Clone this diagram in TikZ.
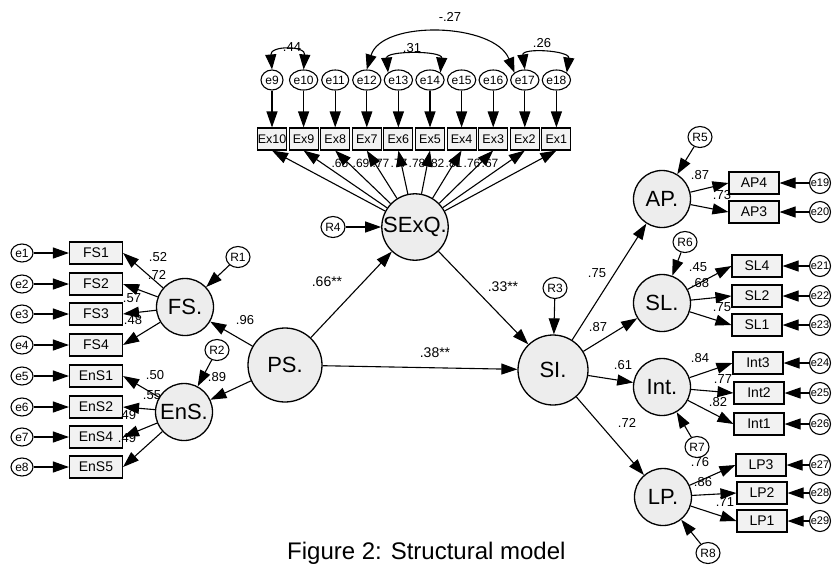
\documentclass[tikz,border=0pt]{standalone}
\usepackage{fontspec}
\setmainfont{Liberation Sans}
\usetikzlibrary{arrows.meta,shapes.geometric}
\newcommand{\pxfont}[1]{\fontsize{#1}{#1}\selectfont}
\tikzset{
  latent/.style={draw,circle,line width=1.3pt,fill=black!7,minimum size=57pt,
                 inner sep=0pt,font=\pxfont{22}},
  obs/.style={draw,line width=1.1pt,fill=black!5,minimum width=50pt,
              minimum height=22pt,inner sep=0pt,font=\pxfont{14}},
  exbox/.style={obs,minimum width=29pt,font=\pxfont{12.5}},
  err/.style={draw,ellipse,line width=1.1pt,fill=white,minimum width=22pt,
              minimum height=18pt,inner sep=0pt,font=\pxfont{12}},
  errc/.style={err,circle,minimum size=21pt,font=\pxfont{11}},
  res/.style={err,minimum width=24pt,minimum height=21pt},
  ar/.style={-{Triangle[length=16pt,width=11pt]},line width=1.1pt},
  cov/.style={{Triangle[length=15pt,width=11pt]}-{Triangle[length=15pt,width=11pt]},
              line width=1.1pt},
  lab/.style={font=\pxfont{13},inner sep=0pt},
}
\begin{document}
\begin{tikzpicture}[x=1pt,y=-1pt]
  \path[use as bounding box,fill=white] (0,0) rectangle (832,566);
  % latent variables
  \node[latent,minimum size=74pt] (ps) at (285,365) {PS.};
  \node[latent] (fs) at (185,307) {FS.};
  \node[latent] (ens) at (184,412) {EnS.};
  \node[latent,minimum size=66pt] (sexq) at (415,227) {SExQ.};
  \node[latent,minimum size=70pt] (si) at (553,370) {SI.};
  \node[latent] (ap) at (662,199) {AP.};
  \node[latent] (sl) at (662,303) {SL.};
  \node[latent] (int) at (662,387) {Int.};
  \node[latent] (lp) at (663,497) {LP.};
  % residuals
  \node[res] (r1) at (238,257) {R1};
  \node[res] (r2) at (217,350) {R2};
  \node[res] (r3) at (555,288) {R3};
  \node[res] (r4) at (333,227) {R4};
  \node[res] (r5) at (700,137) {R5};
  \node[res] (r6) at (685,242) {R6};
  \node[res] (r7) at (697,447) {R7};
  \node[res] (r8) at (708,553) {R8};
  \draw[ar] (r1) -- (fs);
  \draw[ar] (r2) -- (ens);
  \draw[ar] (r3) -- (si);
  \draw[ar] (r4) -- (sexq);
  \draw[ar] (r5) -- (ap);
  \draw[ar] (r6) -- (sl);
  \draw[ar] (r7) -- (int);
  \draw[ar] (r8) -- (lp);
  % structural paths
  \draw[ar] (ps) -- (fs);
  \draw[ar] (ps) -- (ens);
  \draw[ar] (ps) -- (sexq);
  \draw[ar] (ps) -- (si);
  \draw[ar] (sexq) -- (si);
  \draw[ar] (si) -- (ap);
  \draw[ar] (si) -- (sl);
  \draw[ar] (si) -- (int);
  \draw[ar] (si) -- (lp);
  % indicators
  \foreach \i/\e/\x in {10/9/272,9/10/303.6,8/11/335.2,7/12/366.8,6/13/398.4,
                        5/14/430,4/15/461.6,3/16/493.2,2/17/524.8,1/18/556.4}{
    \node[exbox] (Ex\i) at (\x,139) {Ex\i};
    \node[err,minimum height=20pt] (e\e) at (\x,80) {e\e};
    \draw[ar] (e\e) -- (Ex\i);
    \draw[ar] (sexq) -- (Ex\i.south);
  }
  \foreach \e/\b/\y/\src in {1/FS1/253/fs,2/FS2/284/fs,3/FS3/314/fs,4/FS4/345/fs,
                             5/EnS1/376/ens,6/EnS2/407/ens,7/EnS4/437/ens,8/EnS5/467/ens}{
    \node[obs,minimum width=53pt] (\b) at (96,\y) {\b};
    \node[err] (e\e) at (22,\y) {e\e};
    \draw[ar] (e\e) -- (\b.west);
    \draw[ar] (\src) -- (\b.east);
  }
  \foreach \e/\b/\x/\y/\src in {19/AP4/754/183/ap,20/AP3/754/212/ap,21/SL4/757/266/sl,
                                22/SL2/757/296/sl,23/SL1/757/325/sl,24/Int3/758/363/int,
                                25/Int2/759/393/int,26/Int1/759/424/int,27/LP3/761/465/lp,
                                28/LP2/762/493/lp,29/LP1/762/521/lp}{
    \node[obs] (\b) at (\x,\y) {\b};
    \node[errc] (e\e) at (820,\y) {e\e};
    \draw[ar] (e\e) -- (\b.east);
    \draw[ar] (\src) -- (\b.west);
  }
  % correlated errors
  \draw[cov] (e9.north) .. controls +(-2,-24) and +(2,-24) .. (e10.north);
  \draw[cov] (e13.north west) .. controls +(-2,-22) and +(2,-22) .. (e14.north east);
  \draw[cov] (e17.north) .. controls +(-3,-22) and +(3,-22) .. (e18.north east);
  \draw[cov] (e12.north) .. controls +(15,-50) and +(-20,-50) .. (e17.north west);
  % estimates
  \node[lab] (c1) at (450,17) {-.27};
  \node[lab] (c2) at (292,47) {.44};
  \node[lab] (c3) at (412,48) {.31};
  \node[lab] (c4) at (542,43) {.26};
  \foreach \v/\x in {.65/340,.69/361,.77/381,.77/399,.78/417,.82/436,.81/454,.76/472,.67/490}{
    \node[lab,font=\pxfont{12}] at (\x,163) {\v};
  }
  \node[lab,font=\pxfont{14}] (p1) at (327,282) {.66**};
  \node[lab,font=\pxfont{14}] (p2) at (503,287) {.33**};
  \node[lab,font=\pxfont{14}] (p3) at (435,353) {.38**};
  \node[lab] (p4) at (245,320) {.96};
  \node[lab] (p5) at (217,377) {.89};
  \node[lab] (p6) at (597,273) {.75};
  \node[lab] (p7) at (598,327) {.87};
  \node[lab] (p8) at (623,365) {.61};
  \node[lab] (p9) at (627,423) {.72};
  \node[lab] (l1) at (158,257) {.52};
  \node[lab] (l2) at (157,275) {.72};
  \node[lab] (l3) at (132,298) {.57};
  \node[lab] (l4) at (133,320) {.48};
  \node[lab] (l5) at (155,375) {.50};
  \node[lab] (l6) at (152,395) {.55};
  \node[lab] (l7) at (127,415) {.49};
  \node[lab] (l8) at (127,438) {.49};
  \node[lab] (l9) at (700,175) {.87};
  \node[lab] (l10) at (722,195) {.73};
  \node[lab] (l11) at (698,267) {.45};
  \node[lab] (l12) at (700,283) {.68};
  \node[lab] (l13) at (722,307) {.75};
  \node[lab] (l14) at (700,358) {.84};
  \node[lab] (l15) at (723,379) {.77};
  \node[lab] (l16) at (718,402) {.82};
  \node[lab] (l17) at (700,462) {.76};
  \node[lab] (l18) at (703,482) {.86};
  \node[lab] (l19) at (725,502) {.71};
  \node[font=\pxfont{24},anchor=base west,inner sep=0pt] (cap) at (287,559) {Figure 2: Structural model};
\end{tikzpicture}
\end{document}
